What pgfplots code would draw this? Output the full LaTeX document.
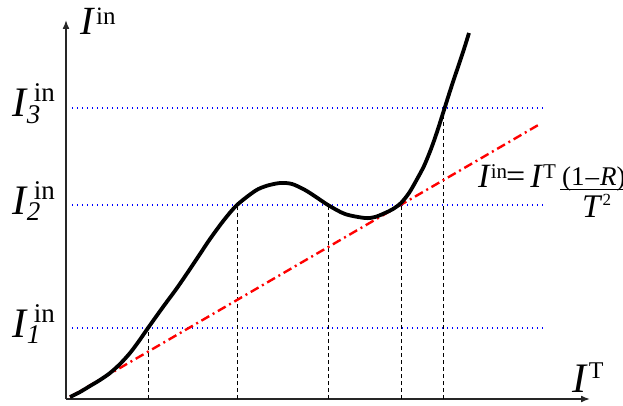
\documentclass[border=0pt]{standalone}
\usepackage{fontspec}
\setmainfont{Liberation Serif}
\usepackage{pgfplots}
\pgfplotsset{compat=1.18}
\usetikzlibrary{arrows.meta}

% I_k^in label: big italic I, subscript, then superscript "in"
\newcommand\Ilab[1]{\fontsize{42}{42}\selectfont\textit{I}\kern-1pt\rlap{\raisebox{-6pt}{\fontsize{27}{27}\selectfont\textit{#1}}}\kern7pt\raisebox{15pt}{\fontsize{27}{27}\selectfont in}}

\begin{document}
\begin{tikzpicture}
\useasboundingbox (0,0) rectangle (623pt,405pt);
\begin{axis}[
    at={(66pt,6pt)}, anchor=south west,
    x=1pt, y=1pt,
    xmin=0, xmax=524, ymin=0, ymax=379,
    axis lines=left,
    axis line style={line width=1.6pt, black!85, -{Latex[length=9pt,width=7pt]}},
    xtick=\empty, ytick=\empty,
    clip=false,
    ]

% guide levels
\addplot[blue, line width=1.6pt, dash pattern=on 1.4pt off 3.6pt] coordinates {(6,291) (477,291)};
\addplot[blue, line width=1.6pt, dash pattern=on 1.4pt off 3.6pt] coordinates {(6,194) (477,194)};
\addplot[blue, line width=1.6pt, dash pattern=on 1.4pt off 3.6pt] coordinates {(6,71) (477,71)};

% vertical drops
\addplot[black, line width=0.9pt, dash pattern=on 4pt off 3pt] coordinates {(82,0) (82,71)};
\addplot[black, line width=0.9pt, dash pattern=on 4pt off 3pt] coordinates {(171,0) (171,194)};
\addplot[black, line width=0.9pt, dash pattern=on 4pt off 3pt] coordinates {(262,0) (262,194)};
\addplot[black, line width=0.9pt, dash pattern=on 4pt off 3pt] coordinates {(335,0) (335,194)};
\addplot[black, line width=0.9pt, dash pattern=on 4pt off 3pt] coordinates {(377,0) (377,291)};

% straight line
\addplot[red, line width=2.4pt, dash pattern=on 9pt off 4pt on 2pt off 4pt] coordinates {(4,2) (474,275)};

% S-curve
\addplot[black, line width=3.8pt, smooth, tension=0.5] coordinates {
  (4,2) (14,7) (24,13) (34,19) (44,26) (54,35) (64,46) (73,58) (82,71)
  (97,92) (111,111) (124,130) (134,145) (144,160) (158,179) (171,194)
  (189,208) (200,213) (214,216) (226,215) (239,209) (250,202) (262,194)
  (279,185) (299,181) (309,182) (319,186) (327,190) (335,196) (343,206)
  (350,218) (358,233) (365,250) (371,267) (378,289) (385,311) (392,332)
  (398,350) (403,366)};

% labels
\node[anchor=base west, inner sep=0pt] at (axis cs:14,364)
  {\fontsize{40}{40}\selectfont\textit{I}\kern1pt\raisebox{10pt}{\fontsize{25}{25}\selectfont in}};
\node[anchor=base west, inner sep=0pt] at (axis cs:-54,282) {\Ilab{3}};
\node[anchor=base west, inner sep=0pt] at (axis cs:-54,185) {\Ilab{2}};
\node[anchor=base west, inner sep=0pt] at (axis cs:-54,62) {\Ilab{1}};
\node[anchor=base west, inner sep=0pt] at (axis cs:506,7)
  {\fontsize{42}{42}\selectfont\textit{I}\kern1pt\raisebox{14pt}{\fontsize{24}{24}\selectfont T}};

% formula of the line
\node[anchor=base west, inner sep=0pt] at (axis cs:412,212)
  {\fontsize{34}{34}\selectfont\textit{I}\raisebox{9pt}{\fontsize{21}{21}\selectfont in}\kern-1pt=\kern5pt\textit{I}\raisebox{9pt}{\fontsize{21}{21}\selectfont T}};
\node[anchor=base west, inner sep=0pt] at (axis cs:496,214)
  {\fontsize{27}{27}\selectfont(1\kern1pt\textendash\kern1pt\textit{R})\raisebox{9pt}{\fontsize{17}{17}\selectfont 2}};
\node[anchor=west, inner sep=0pt] at (axis cs:494,210) {\rule{80pt}{1pt}};
\node[anchor=base west, inner sep=0pt] at (axis cs:516,182)
  {\fontsize{33}{33}\selectfont\textit{T}\raisebox{12pt}{\fontsize{17}{17}\selectfont 2}};
\end{axis}
\end{tikzpicture}
\end{document}
